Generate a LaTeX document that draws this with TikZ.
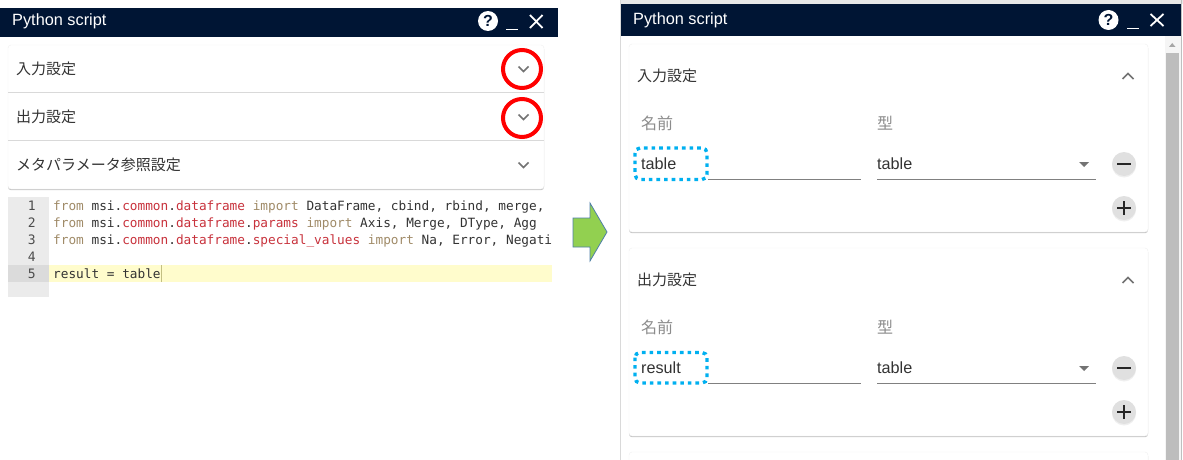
\documentclass[tikz,border=0pt]{standalone}
\usepackage{fontspec}
\setmainfont{Liberation Sans}
\newfontfamily\jpfont{Noto Sans CJK JP}
\newfontfamily\codefont{DejaVu Sans Mono}
\usetikzlibrary{shadows}
\definecolor{barblue}{HTML}{001534}
\definecolor{kwtan}{HTML}{A08B68}
\definecolor{modred}{HTML}{C8323C}
\definecolor{codeink}{HTML}{333333}
\definecolor{dotblue}{HTML}{00B0F0}
\definecolor{arrowgreen}{HTML}{92D050}
\definecolor{arrowedge}{HTML}{4F7FA8}
\tikzset{
    titletext/.style={anchor=base west,inner sep=0pt,white,font=\fontsize{16.3}{16.3}\selectfont},
    jptext/.style={anchor=base west,inner sep=0pt,text=black!80,font=\jpfont\fontsize{15}{15}\selectfont},
    fieldlabel/.style={anchor=base west,inner sep=0pt,text=black!45,font=\jpfont\fontsize{16}{16}\selectfont},
    fieldtext/.style={anchor=base west,inner sep=0pt,text=black!80,font=\fontsize{16.2}{16.2}\selectfont},
    codetext/.style={anchor=base west,inner sep=0pt,text=codeink,font=\codefont\fontsize{12.75}{12.75}\selectfont},
    gutternum/.style={anchor=base east,inner sep=0pt,text=black!70,font=\codefont\fontsize{13}{13}\selectfont},
    cardbox/.style={fill=white,draw=black!6,rounded corners=3pt,drop shadow={shadow xshift=0pt,shadow yshift=-1.2pt,opacity=.45}},
    chevron/.style={draw=black!55,line width=1.7pt},
    redring/.style={draw=red,line width=4pt},
    dotbox/.style={draw=dotblue,line width=3.4pt,dash pattern=on 3.6pt off 4pt,rounded corners=5pt},
    fieldline/.style={draw=black!50,line width=1pt},
    roundbtn/.style={circle,fill=black!12,minimum size=24pt,inner sep=0pt,drop shadow={shadow xshift=0pt,shadow yshift=-1.5pt,opacity=.12}},
    btnmark/.style={draw=black!85,line width=1.7pt},
    helpicon/.style={circle,fill=white,minimum size=20pt,inner sep=0pt,text=barblue,font=\bfseries\fontsize{16}{16}\selectfont},
    winmark/.style={draw=white,line width=1.8pt}
}
\begin{document}
\begin{tikzpicture}[x=1pt,y=-1pt]
    \useasboundingbox (0,0) rectangle (1183,460);
    \fill[white] (0,0) rectangle (1183,460);

    % left window
    \fill[barblue] (0,8) rectangle (558,37);
    \node[titletext] (lefttitle) at (12,26) {Python script};
    \node[helpicon] (lefthelp) at (488,21) {?};
    \draw[winmark] (506,29.5)--(518,29.5);
    \draw[winmark] (530,15)--(542.5,28);
    \draw[winmark] (542.5,15)--(530,28);

    \draw[cardbox] (8,45) rectangle (544,189);
    \draw[black!15] (8,92.5)--(544,92.5);
    \draw[black!15] (8,140.5)--(544,140.5);
    \node[jptext] (leftinput) at (16,74.4) {入力設定};
    \node[jptext] (leftoutput) at (16,122.4) {出力設定};
    \node[jptext] (leftmeta) at (16,170) {メタパラメータ参照設定};
    \draw[chevron] (518.5,66.5)--(523.5,71.5)--(528.5,66.5);
    \draw[chevron] (518.5,114.5)--(523.5,119.5)--(528.5,114.5);
    \draw[chevron] (518.5,162.5)--(523.5,167.5)--(528.5,162.5);
    \draw[redring] (522,69) circle (19);
    \draw[redring] (522,118) circle (19);

    % code editor
    \fill[black!8] (8,197) rectangle (49,297);
    \fill[black!14] (8,265) rectangle (49,282);
    \fill[yellow!20!white] (49,265) rectangle (552,282);
    \draw[black!45!yellow!60!white] (161,265)--(161,282);
    \node[gutternum] (numa) at (36,210) {1};
    \node[gutternum] (numb) at (36,227) {2};
    \node[gutternum] (numc) at (36,244) {3};
    \node[gutternum] (numd) at (36,261) {4};
    \node[gutternum] (nume) at (36,278) {5};
    \node[codetext] (codea) at (53,210) {\textcolor{kwtan}{from} msi.\textcolor{modred}{common}.\textcolor{modred}{dataframe} \textcolor{kwtan}{import} DataFrame, cbind, rbind, merge,};
    \node[codetext] (codeb) at (53,227) {\textcolor{kwtan}{from} msi.\textcolor{modred}{common}.\textcolor{modred}{dataframe}.\textcolor{modred}{params} \textcolor{kwtan}{import} Axis, Merge, DType, Agg};
    \node[codetext] (codec) at (53,244) {\textcolor{kwtan}{from} msi.\textcolor{modred}{common}.\textcolor{modred}{dataframe}.\textcolor{modred}{special\_values} \textcolor{kwtan}{import} Na, Error, Negati};
    \node[codetext] (codee) at (53,278) {result = table};

    % arrow between windows
    \draw[fill=arrowgreen,draw=arrowedge,line width=.8pt] (573,218)--(590,218)--(590,203)--(607,232)--(590,261)--(590,247)--(573,247)--cycle;

    % right window
    \fill[black!9] (620,0) rectangle (1183,4);
    \fill[black!15] (620,0) rectangle (621,460);
    \fill[black!4] (1165,36) rectangle (1181,460);
    \fill[black!26] (1166,53) rectangle (1179,460);
    \fill[black!35] (1169,47)--(1175.5,47)--(1172.2,43)--cycle;
    \fill[black!25] (1181,0) rectangle (1182,460);
    \fill[barblue] (621,4) rectangle (1181,36);
    \node[titletext] (righttitle) at (633,25) {Python script};
    \node[helpicon] (righthelp) at (1108.5,20) {?};
    \draw[winmark] (1127,28.5)--(1139,28.5);
    \draw[winmark] (1150.5,14)--(1163.5,26);
    \draw[winmark] (1163.5,14)--(1150.5,26);

    % input card
    \draw[cardbox] (629,44) rectangle (1148,232);
    \node[jptext] (rightinput) at (637,81.4) {入力設定};
    \node[fieldlabel] (namea) at (641,129) {名前};
    \node[fieldlabel] (typea) at (877,129) {型};
    \node[fieldtext] (tablea) at (641,169) {table};
    \node[fieldtext] (tableb) at (877,169) {table};
    \draw[fieldline] (708,179.5)--(861,179.5);
    \draw[fieldline] (877,179.5)--(1096,179.5);
    \fill[black!55] (1079,162)--(1089,162)--(1084,167)--cycle;
    \draw[chevron] (1122.5,79)--(1128,73.5)--(1133.5,79);
    \node[roundbtn] (minusa) at (1124,164) {};
    \node[roundbtn] (plusa) at (1124,208) {};
    \draw[btnmark] (1117,164)--(1131,164);
    \draw[btnmark] (1117,208)--(1131,208);
    \draw[btnmark] (1124,201)--(1124,215);
    \draw[dotbox] (635,148) rectangle (707,179.5);

    % output card
    \draw[cardbox] (629,248) rectangle (1148,436);
    \node[jptext] (rightoutput) at (637,285) {出力設定};
    \node[fieldlabel] (nameb) at (641,333) {名前};
    \node[fieldlabel] (typeb) at (877,333) {型};
    \node[fieldtext] (resultc) at (641,373) {result};
    \node[fieldtext] (tabled) at (877,373) {table};
    \draw[fieldline] (708,383.5)--(861,383.5);
    \draw[fieldline] (877,383.5)--(1096,383.5);
    \fill[black!55] (1079,366)--(1089,366)--(1084,371)--cycle;
    \draw[chevron] (1122.5,283)--(1128,277.5)--(1133.5,283);
    \node[roundbtn] (minusb) at (1124,368) {};
    \node[roundbtn] (plusb) at (1124,412) {};
    \draw[btnmark] (1117,368)--(1131,368);
    \draw[btnmark] (1117,412)--(1131,412);
    \draw[btnmark] (1124,405)--(1124,419);
    \draw[dotbox] (635,352.5) rectangle (707,383);

    % third card, cut off by the page
    \draw[cardbox] (629,475) rectangle (1148,452);
\end{tikzpicture}
\end{document}
